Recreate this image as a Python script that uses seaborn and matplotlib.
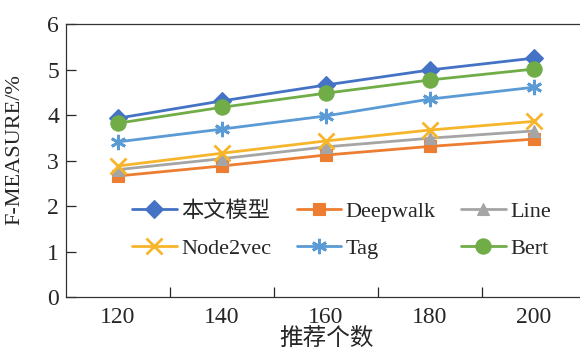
import numpy as np
import pandas as pd
import matplotlib
matplotlib.use("Agg")
import matplotlib.pyplot as plt
import seaborn as sns

# Data
counts = ["120", "140", "160", "180", "200"]
ours = [3.93, 4.31, 4.66, 4.99, 5.25]
deepwalk = [2.66, 2.88, 3.12, 3.31, 3.47]
line = [2.80, 3.04, 3.30, 3.49, 3.65]
node2vec = [2.88, 3.16, 3.43, 3.67, 3.86]
tag = [3.41, 3.69, 3.98, 4.35, 4.61]
bert = [3.82, 4.17, 4.48, 4.77, 5.01]

names = ["本文模型", "Deepwalk", "Line", "Node2vec", "Tag", "Bert"]
series = [ours, deepwalk, line, node2vec, tag, bert]
colors = ["#4472C4", "#ED7D31", "#A5A5A5", "#F7B52C", "#5B9BD5", "#70AD47"]
markers = ["D", "s", "^", "x", (6, 2, 0), "o"]
msizes = [9.5, 9, 9, 11, 11, 11]

sns.set_style("ticks")
plt.rcParams["font.family"] = ["Liberation Serif", "Noto Sans CJK SC"]
plt.rcParams["axes.linewidth"] = 0.9
plt.rcParams["axes.edgecolor"] = "#333333"

fig = plt.figure(figsize=(5.8, 3.57), dpi=100)
ax = fig.add_axes([66 / 580, 1 - 297 / 357, 520 / 580, 273 / 357])

pos = np.arange(len(counts))
handles = []
for name, vals, c, m, ms in zip(names, series, colors, markers, msizes):
    df = pd.DataFrame({"x": pos, "y": vals})
    sns.lineplot(data=df, x="x", y="y", ax=ax, color=c, marker=m,
                 markersize=ms, linewidth=2.0, markeredgecolor=c,
                 markeredgewidth=2.0 if m in ("x", (6, 2, 0)) else 0.8,
                 label=name, legend=False)
    handles.append(ax.lines[-1])

ax.set_xlim(-0.5, 4.5)
ax.set_ylim(0, 6)
ax.set_yticks(range(0, 7))
ax.set_xticks(pos)
ax.set_xticklabels(counts)
ax.set_xticks(pos[:-1] + 0.5, minor=True)
ax.tick_params(axis="x", which="major", length=0, labelsize=17, pad=7)
ax.tick_params(axis="x", which="minor", direction="in", length=7, width=0.9)
ax.tick_params(axis="y", direction="in", length=7, width=0.9, labelsize=17, pad=5)
ax.spines["right"].set_visible(False)

ax.set_xlabel("推荐个数", fontsize=17, labelpad=0)
ax.set_ylabel("F-MEASURE/%", fontsize=16, labelpad=6)
ax.yaxis.set_label_coords(-0.08, 0.54)

order = [0, 3, 1, 4, 2, 5]
ax.legend([handles[i] for i in order], [names[i] for i in order], ncol=3,
          loc="center left", bbox_to_anchor=(0.106, 0.245), frameon=False,
          fontsize=16, handlelength=2.0, handletextpad=0.2,
          columnspacing=1.15, labelspacing=0.75, borderpad=0.0)

fig.savefig("out.png", dpi=100)
